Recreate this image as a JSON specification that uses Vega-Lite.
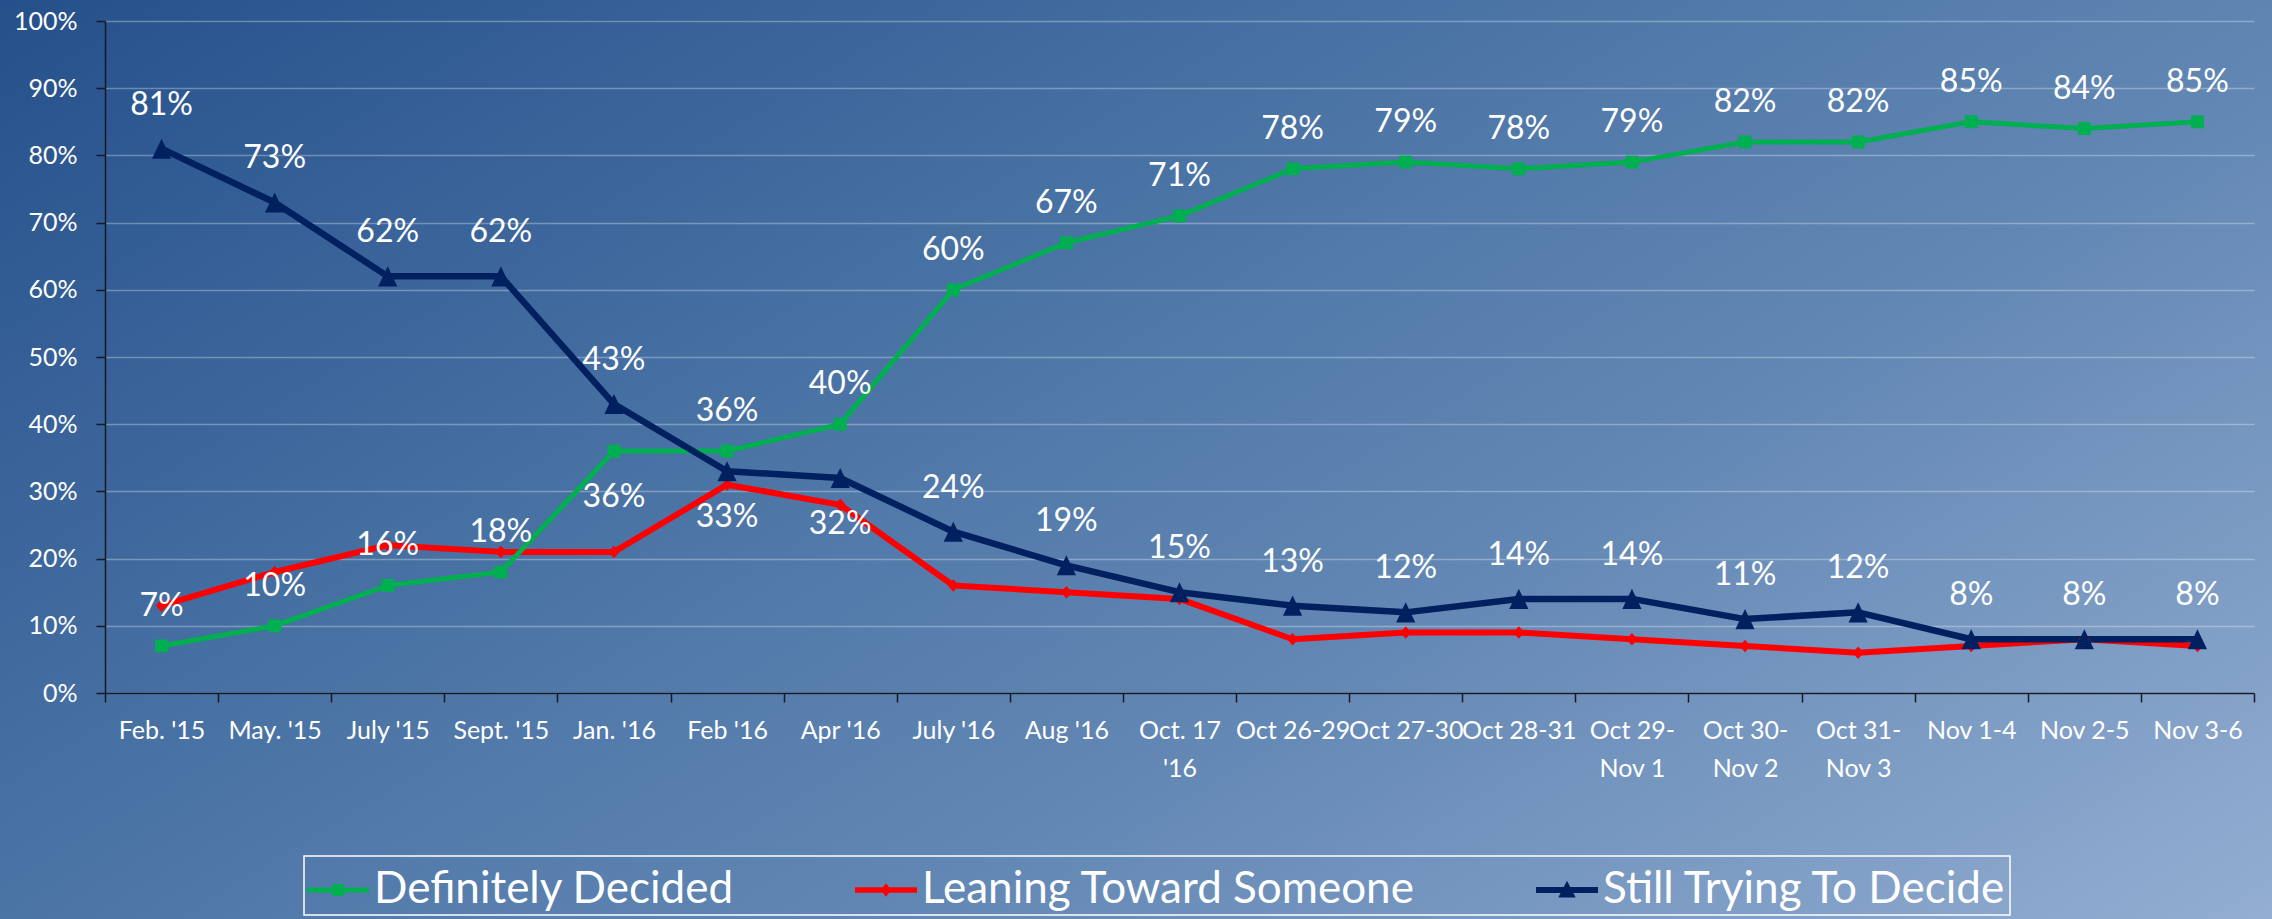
{
  "$schema": "https://vega.github.io/schema/vega-lite/v6.json",
  "width": 2272,
  "height": 919,
  "padding": 0,
  "autosize": {"type": "none"},
  "view": {
    "stroke": null,
    "fill": {
      "gradient": "linear",
      "x1": 0, "y1": 0, "x2": 1.2, "y2": 0.8,
      "stops": [
        {"offset": 0, "color": "#25508B"},
        {"offset": 0.4, "color": "#4D76A7"},
        {"offset": 0.6, "color": "#6186B3"},
        {"offset": 1, "color": "#98B2D5"}
      ]
    }
  },
  "config": {
    "font": "Lato",
    "axis": {"labelFont": "Lato", "labelColor": "white", "domainColor": "#151a26", "tickColor": "#151a26", "domainWidth": 1.5, "tickWidth": 1.5, "title": null}
  },
  "resolve": {"scale": {"shape": "independent", "color": "independent"}},
  "data": {
    "values": [
      {"cat": "Feb. '15", "series": "Leaning Toward Someone", "v": 0.13},
      {"cat": "May. '15", "series": "Leaning Toward Someone", "v": 0.18},
      {"cat": "July '15", "series": "Leaning Toward Someone", "v": 0.22},
      {"cat": "Sept. '15", "series": "Leaning Toward Someone", "v": 0.21},
      {"cat": "Jan. '16", "series": "Leaning Toward Someone", "v": 0.21},
      {"cat": "Feb '16", "series": "Leaning Toward Someone", "v": 0.31},
      {"cat": "Apr '16", "series": "Leaning Toward Someone", "v": 0.28},
      {"cat": "July '16", "series": "Leaning Toward Someone", "v": 0.16},
      {"cat": "Aug '16", "series": "Leaning Toward Someone", "v": 0.15},
      {"cat": "Oct. 17 '16", "series": "Leaning Toward Someone", "v": 0.14},
      {"cat": "Oct 26-29", "series": "Leaning Toward Someone", "v": 0.08},
      {"cat": "Oct 27-30", "series": "Leaning Toward Someone", "v": 0.09},
      {"cat": "Oct 28-31", "series": "Leaning Toward Someone", "v": 0.09},
      {"cat": "Oct 29-Nov 1", "series": "Leaning Toward Someone", "v": 0.08},
      {"cat": "Oct 30-Nov 2", "series": "Leaning Toward Someone", "v": 0.07},
      {"cat": "Oct 31-Nov 3", "series": "Leaning Toward Someone", "v": 0.06},
      {"cat": "Nov 1-4", "series": "Leaning Toward Someone", "v": 0.07},
      {"cat": "Nov 2-5", "series": "Leaning Toward Someone", "v": 0.08},
      {"cat": "Nov 3-6", "series": "Leaning Toward Someone", "v": 0.07},
      {"cat": "Feb. '15", "series": "Definitely Decided", "v": 0.07},
      {"cat": "May. '15", "series": "Definitely Decided", "v": 0.10},
      {"cat": "July '15", "series": "Definitely Decided", "v": 0.16},
      {"cat": "Sept. '15", "series": "Definitely Decided", "v": 0.18},
      {"cat": "Jan. '16", "series": "Definitely Decided", "v": 0.36},
      {"cat": "Feb '16", "series": "Definitely Decided", "v": 0.36},
      {"cat": "Apr '16", "series": "Definitely Decided", "v": 0.40},
      {"cat": "July '16", "series": "Definitely Decided", "v": 0.60},
      {"cat": "Aug '16", "series": "Definitely Decided", "v": 0.67},
      {"cat": "Oct. 17 '16", "series": "Definitely Decided", "v": 0.71},
      {"cat": "Oct 26-29", "series": "Definitely Decided", "v": 0.78},
      {"cat": "Oct 27-30", "series": "Definitely Decided", "v": 0.79},
      {"cat": "Oct 28-31", "series": "Definitely Decided", "v": 0.78},
      {"cat": "Oct 29-Nov 1", "series": "Definitely Decided", "v": 0.79},
      {"cat": "Oct 30-Nov 2", "series": "Definitely Decided", "v": 0.82},
      {"cat": "Oct 31-Nov 3", "series": "Definitely Decided", "v": 0.82},
      {"cat": "Nov 1-4", "series": "Definitely Decided", "v": 0.85},
      {"cat": "Nov 2-5", "series": "Definitely Decided", "v": 0.84},
      {"cat": "Nov 3-6", "series": "Definitely Decided", "v": 0.85},
      {"cat": "Feb. '15", "series": "Still Trying To Decide", "v": 0.81},
      {"cat": "May. '15", "series": "Still Trying To Decide", "v": 0.73},
      {"cat": "July '15", "series": "Still Trying To Decide", "v": 0.62},
      {"cat": "Sept. '15", "series": "Still Trying To Decide", "v": 0.62},
      {"cat": "Jan. '16", "series": "Still Trying To Decide", "v": 0.43},
      {"cat": "Feb '16", "series": "Still Trying To Decide", "v": 0.33},
      {"cat": "Apr '16", "series": "Still Trying To Decide", "v": 0.32},
      {"cat": "July '16", "series": "Still Trying To Decide", "v": 0.24},
      {"cat": "Aug '16", "series": "Still Trying To Decide", "v": 0.19},
      {"cat": "Oct. 17 '16", "series": "Still Trying To Decide", "v": 0.15},
      {"cat": "Oct 26-29", "series": "Still Trying To Decide", "v": 0.13},
      {"cat": "Oct 27-30", "series": "Still Trying To Decide", "v": 0.12},
      {"cat": "Oct 28-31", "series": "Still Trying To Decide", "v": 0.14},
      {"cat": "Oct 29-Nov 1", "series": "Still Trying To Decide", "v": 0.14},
      {"cat": "Oct 30-Nov 2", "series": "Still Trying To Decide", "v": 0.11},
      {"cat": "Oct 31-Nov 3", "series": "Still Trying To Decide", "v": 0.12},
      {"cat": "Nov 1-4", "series": "Still Trying To Decide", "v": 0.08},
      {"cat": "Nov 2-5", "series": "Still Trying To Decide", "v": 0.08},
      {"cat": "Nov 3-6", "series": "Still Trying To Decide", "v": 0.08}
    ]
  },
  "encoding": {
    "x": {
      "field": "cat", "type": "nominal", "sort": null,
      "scale": {"range": [105, 2254], "paddingInner": 0, "paddingOuter": 0},
      "axis": {
        "offset": -226, "tickSize": 9, "tickBand": "extent", "labelAngle": 0,
        "labelFontSize": 25, "labelPadding": 16, "labelLineHeight": 38,
        "labelOverlap": false, "labelLimit": 300, "grid": false,
        "labelExpr": "indexof(datum.label, '-Nov') >= 0 ? [slice(datum.label, 0, indexof(datum.label, '-') + 1), slice(datum.label, indexof(datum.label, '-') + 1)] : (indexof(datum.label, 'Oct. 17') >= 0 ? ['Oct. 17', slice(datum.label, 8)] : datum.label)"
      }
    },
    "y": {
      "field": "v", "type": "quantitative",
      "scale": {"domain": [0, 1], "range": [693, 21], "nice": false},
      "axis": {
        "offset": -105, "values": [0, 0.1, 0.2, 0.3, 0.4, 0.5, 0.6, 0.7, 0.8, 0.9, 1],
        "format": ".0%", "tickSize": 9, "labelFontSize": 25, "labelPadding": 19,
        "grid": true, "gridColor": "#ffffff", "gridOpacity": 0.3, "gridWidth": 1.5
      }
    }
  },
  "layer": [
    {
      "mark": {"type": "point", "filled": true, "opacity": 0},
      "encoding": {
        "color": {
          "field": "series", "type": "nominal",
          "scale": {"domain": ["Definitely Decided", "Leaning Toward Someone", "Still Trying To Decide"], "range": ["#00B050", "#FF0000", "#002060"]},
          "legend": {
            "orient": "none", "legendX": 304, "legendY": 856, "direction": "horizontal", "title": null,
            "labelFont": "Lato", "labelFontSize": 44, "labelColor": "white", "labelLimit": 1000,
            "symbolSize": 3844, "symbolStrokeWidth": 0, "symbolOpacity": 1, "labelOffset": 5,
            "columnPadding": 120, "padding": 3, "strokeColor": "white",
            "encode": {"legend": {"update": {"strokeWidth": {"value": 1.5}}}}
          }
        },
        "shape": {
          "field": "series", "type": "nominal",
          "scale": {
            "domain": ["Definitely Decided", "Leaning Toward Someone", "Still Trying To Decide"],
            "range": [
              "M-1,-0.08L-0.19,-0.08L-0.19,-0.19L0.19,-0.19L0.19,-0.08L1,-0.08L1,0.08L0.19,0.08L0.19,0.19L-0.19,0.19L-0.19,0.08L-1,0.08Z",
              "M-1,-0.09L-0.1,-0.09L0,-0.22L0.1,-0.09L1,-0.09L1,0.09L0.1,0.09L0,0.22L-0.1,0.09L-1,0.09Z",
              "M-1,-0.1L-0.104,-0.1L0,-0.3L0.104,-0.1L1,-0.1L1,0.1L0.207,0.1L0.28,0.24L-0.28,0.24L-0.207,0.1L-1,0.1Z"
            ]
          },
          "legend": {
            "orient": "none", "legendX": 304, "legendY": 856, "direction": "horizontal", "title": null,
            "labelFont": "Lato", "labelFontSize": 44, "labelColor": "white", "labelLimit": 1000,
            "symbolSize": 3844, "symbolStrokeWidth": 0, "symbolOpacity": 1, "labelOffset": 5,
            "columnPadding": 120, "padding": 3, "strokeColor": "white",
            "encode": {"legend": {"update": {"strokeWidth": {"value": 1.5}}}}
          }
        }
      }
    },
    {
      "mark": {"type": "line", "strokeJoin": "round"},
      "encoding": {
        "color": {
          "field": "series", "type": "nominal",
          "scale": {"domain": ["Definitely Decided", "Leaning Toward Someone", "Still Trying To Decide"], "range": ["#00B050", "#FF0000", "#002060"]},
          "legend": null
        },
        "strokeWidth": {
          "condition": [
            {"test": "datum.series === 'Still Trying To Decide'", "value": 6.5},
            {"test": "datum.series === 'Leaning Toward Someone'", "value": 6}
          ],
          "value": 5
        },
        "detail": {"field": "series"}
      }
    },
    {
      "mark": {"type": "point", "filled": true, "opacity": 1, "size": 900},
      "encoding": {
        "color": {
          "field": "series", "type": "nominal",
          "scale": {"domain": ["Definitely Decided", "Leaning Toward Someone", "Still Trying To Decide"], "range": ["#00B050", "#FF0000", "#002060"]},
          "legend": null
        },
        "shape": {
          "field": "series", "type": "nominal",
          "scale": {"domain": ["Definitely Decided", "Leaning Toward Someone", "Still Trying To Decide"], "range": ["M-0.43,-0.43L0.43,-0.43L0.43,0.43L-0.43,0.43Z", "M0,-0.42L0.37,0L0,0.42L-0.37,0Z", "M0,-0.67L0.64,0.67L-0.64,0.67Z"]},
          "legend": null
        }
      }
    },
    {
      "transform": [
        {"filter": {"field": "series", "equal": "Definitely Decided"}},
        {"filter": {"not": {"field": "cat", "equal": "Jan. '16"}}}
      ],
      "mark": {"type": "text", "font": "Lato", "fontSize": 32, "color": "white", "baseline": "middle", "dy": -40},
      "encoding": {"text": {"field": "v", "type": "quantitative", "format": ".0%"}}
    },
    {
      "transform": [
        {"filter": {"field": "series", "equal": "Still Trying To Decide"}},
        {"filter": {"not": {"field": "cat", "oneOf": ["Feb '16", "Apr '16"]}}}
      ],
      "mark": {"type": "text", "font": "Lato", "fontSize": 32, "color": "white", "baseline": "middle", "dy": -44},
      "encoding": {"text": {"field": "v", "type": "quantitative", "format": ".0%"}}
    },
    {
      "transform": [
        {"filter": {"or": [
          {"and": [{"field": "series", "equal": "Definitely Decided"}, {"field": "cat", "equal": "Jan. '16"}]},
          {"and": [{"field": "series", "equal": "Still Trying To Decide"}, {"field": "cat", "oneOf": ["Feb '16", "Apr '16"]}]}
        ]}}
      ],
      "mark": {"type": "text", "font": "Lato", "fontSize": 32, "color": "white", "baseline": "middle", "dy": 46},
      "encoding": {"text": {"field": "v", "type": "quantitative", "format": ".0%"}}
    }
  ]
}
